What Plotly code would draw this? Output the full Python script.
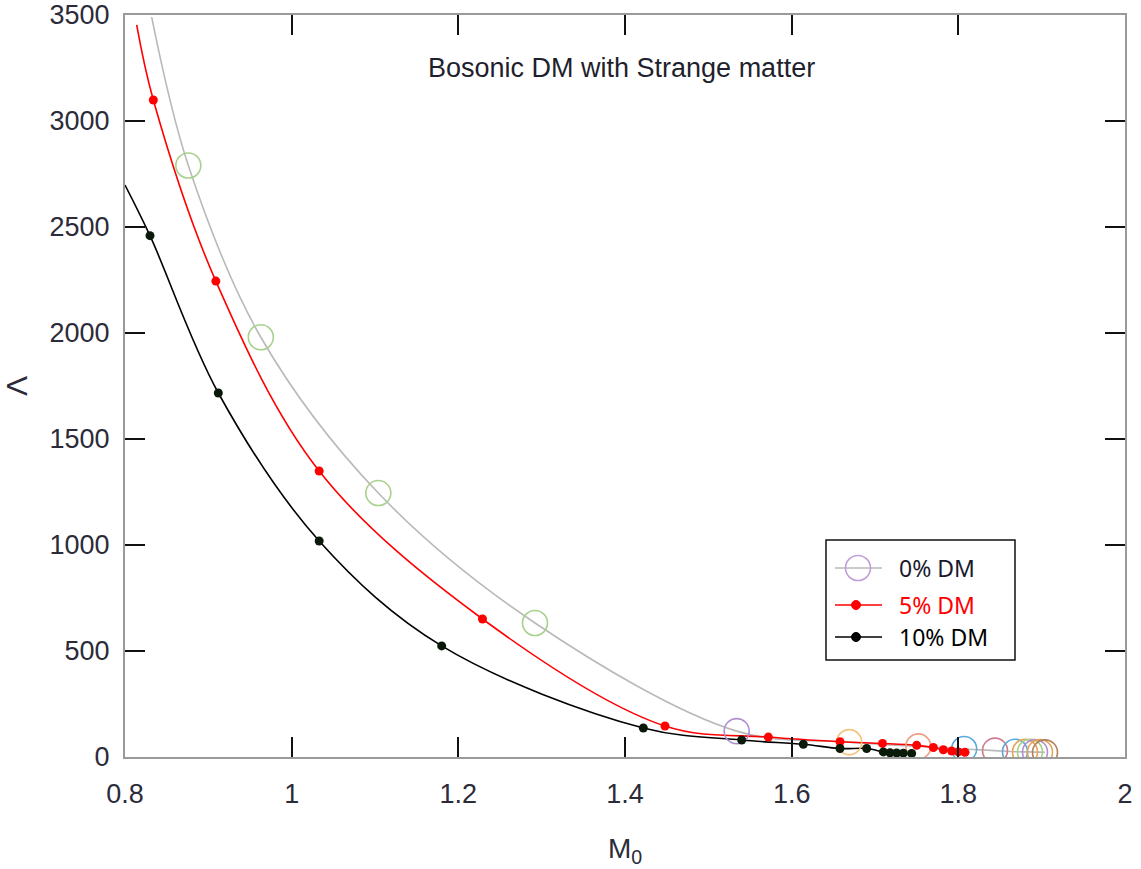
import plotly.graph_objects as go

# ---- data: tidal deformability Lambda versus mass M0 ----
# 0% DM (open circles, grey curve)
m0_dm0 = [0.876, 0.963, 1.104, 1.292, 1.534, 1.669, 1.752, 1.807, 1.844,
          1.868, 1.880, 1.886, 1.892, 1.898, 1.904]
lam_dm0 = [2790, 1980, 1245, 632, 122, 70, 50, 38, 30,
           25, 24, 24, 23, 23, 22]
circle_colors = ["#a9d18e", "#a9d18e", "#a9d18e", "#a9d18e", "#b08fd0",
                 "#f2c27a", "#ef9f80", "#5aa9dd", "#d07a90", "#5aa9dd",
                 "#e8a355", "#a9d18e", "#b08fd0", "#e8a355", "#b0805a"]
dm0_curve_start = (0.832, 3490)

# 5% DM
m0_dm5 = [0.834, 0.909, 1.033, 1.229, 1.448, 1.572, 1.658, 1.709, 1.750,
          1.770, 1.782, 1.792, 1.800, 1.808]
lam_dm5 = [3099, 2245, 1349, 651, 146, 94, 72, 64, 55,
           45, 34, 28, 24, 22]
dm5_curve_start = (0.814, 3453)

# 10% DM
m0_dm10 = [0.830, 0.912, 1.033, 1.180, 1.422, 1.540, 1.614, 1.658, 1.690,
           1.710, 1.718, 1.726, 1.734, 1.744]
lam_dm10 = [2459, 1717, 1019, 524, 137, 80, 60, 40, 40,
            24, 20, 19, 18, 17]
dm10_curve_start = (0.800, 2698)

x_ticks = [0.8, 1.0, 1.2, 1.4, 1.6, 1.8, 2.0]
x_tick_text = ["0.8", "1", "1.2", "1.4", "1.6", "1.8", "2"]
y_ticks = [0, 500, 1000, 1500, 2000, 2500, 3000, 3500]

legend_labels = ["0% DM", "5% DM", "10% DM"]

GREY = "#b9b9b9"
RED = "#ff0000"
BLACK = "#000000"
LEGEND_CIRCLE = "#c0a0d8"
ARIAL = "Liberation Sans, Arial, sans-serif"
TICK_FONT = dict(family=ARIAL, size=27, color="#2b2b3a")
LEG_FAMILY = "Noto Sans, Open Sans, sans-serif"

# page geometry (pixels) of the plotting area
W, H = 1141, 869
ML, MR, MT, MB = 125, 16, 15, 112
PW, PH = W - ML - MR, H - MT - MB


def px(x):
    return (x - ML) / PW


def py(y):
    return (H - MB - y) / PH


fig = go.Figure()


def curve(start, xs, ys, color):
    return go.Scatter(
        x=[start[0]] + xs, y=[start[1]] + ys, mode="lines",
        line=dict(color=color, width=1.6, shape="spline", smoothing=1.0),
        showlegend=False, hoverinfo="skip")


# smooth curves
fig.add_trace(curve(dm0_curve_start, m0_dm0, lam_dm0, GREY))
fig.add_trace(curve(dm5_curve_start, m0_dm5, lam_dm5, RED))
fig.add_trace(curve(dm10_curve_start, m0_dm10, lam_dm10, BLACK))

# point markers
fig.add_trace(go.Scatter(
    x=m0_dm0, y=lam_dm0, mode="markers", showlegend=False,
    marker=dict(symbol="circle-open", size=25, color=circle_colors,
                line=dict(width=1.6, color=circle_colors))))
fig.add_trace(go.Scatter(
    x=m0_dm5, y=lam_dm5, mode="markers", showlegend=False,
    marker=dict(symbol="circle", size=9, color=RED)))
fig.add_trace(go.Scatter(
    x=m0_dm10, y=lam_dm10, mode="markers", showlegend=False,
    marker=dict(symbol="circle", size=9, color="#0a1a0a")))

# ---- legend box drawn with shapes and annotations ----
shapes = [dict(type="rect", xref="paper", yref="paper",
               x0=px(826), x1=px(1015), y0=py(660), y1=py(540),
               line=dict(color="#111111", width=1.5), fillcolor="white",
               layer="above")]
annotations = []
rows = [(568, GREY, LEGEND_CIRCLE, "#1a1a2e"),
        (605, RED, RED, RED),
        (637, BLACK, BLACK, BLACK)]
for i, (row_y, line_col, mark_col, text_col) in enumerate(rows):
    shapes.append(dict(type="line", xref="paper", yref="paper",
                       x0=px(835), x1=px(882), y0=py(row_y), y1=py(row_y),
                       line=dict(color=line_col, width=1.6), layer="above"))
    if i == 0:
        r = 12.5
        shapes.append(dict(type="circle", xref="paper", yref="paper",
                           xsizemode="pixel", ysizemode="pixel",
                           xanchor=px(858), yanchor=py(row_y),
                           x0=-r, x1=r, y0=-r, y1=r,
                           line=dict(color=mark_col, width=1.6), layer="above"))
    else:
        r = 4.5
        shapes.append(dict(type="circle", xref="paper", yref="paper",
                           xsizemode="pixel", ysizemode="pixel",
                           xanchor=px(856), yanchor=py(row_y),
                           x0=-r, x1=r, y0=-r, y1=r, fillcolor=mark_col,
                           line=dict(color=mark_col, width=1), layer="above"))
    annotations.append(dict(
        text=legend_labels[i], xref="paper", yref="paper",
        x=px(897), y=py(row_y), xanchor="left", yanchor="middle",
        showarrow=False, font=dict(family=LEG_FAMILY, size=23, color=text_col)))

annotations.append(dict(
    text="Bosonic DM with Strange matter", xref="paper", yref="paper",
    x=px(621), y=py(68), xanchor="center", yanchor="middle", showarrow=False,
    font=dict(family=ARIAL, size=27, color="#1f1f2e")))

axis_common = dict(
    showgrid=False, zeroline=False, showline=True, linecolor="#9a9a9a",
    linewidth=2, mirror="ticks", ticks="inside", ticklen=20, tickwidth=1.6,
    tickcolor="#111111", tickfont=TICK_FONT, automargin=False)

fig.update_layout(
    width=W, height=H,
    margin=dict(l=ML, r=MR, t=MT, b=MB, autoexpand=False),
    paper_bgcolor="white", plot_bgcolor="white",
    xaxis=dict(range=[0.8, 2.0], tickvals=x_ticks, ticktext=x_tick_text,
               ticklabelstandoff=12,
               title=dict(text="M<sub>0</sub>", standoff=30,
                          font=dict(family=ARIAL, size=28, color="#2b2b3a")),
               **axis_common),
    yaxis=dict(range=[0, 3500], tickvals=y_ticks, ticklabelstandoff=8,
               title=dict(text="Λ", standoff=20,
                          font=dict(family=ARIAL, size=30, color="#2b2b3a")),
               **axis_common),
    showlegend=False,
    shapes=shapes,
    annotations=annotations,
)

fig.write_html("out.html")
